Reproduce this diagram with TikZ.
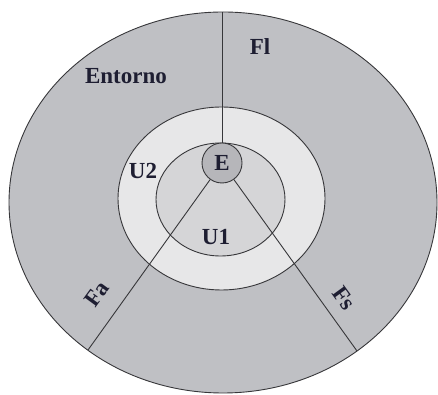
\documentclass[tikz,border=0pt]{standalone}
\usepackage{fontspec}
\setmainfont{Liberation Serif}
\usetikzlibrary{calc,positioning,shapes}
\definecolor{outergray}{RGB}{191,192,196}
\definecolor{ringgray}{RGB}{231,231,232}
\definecolor{innergray}{RGB}{213,213,215}
\definecolor{coregray}{RGB}{182,182,186}
\definecolor{edgegray}{RGB}{55,55,58}
\definecolor{labelink}{RGB}{30,30,50}

\begin{document}
\begin{tikzpicture}[x=1pt,y=1pt]
\tikzstyle{zone}=[draw=edgegray, line width=0.9pt]
\tikzstyle{flow}=[draw=edgegray, line width=0.9pt]
\tikzstyle{lab}=[text=labelink, font=\bfseries\fontsize{23}{25}\selectfont, inner sep=1pt]
\useasboundingbox (0,0) rectangle (438,395);
% regions
\filldraw[zone, fill=outergray] (223,192.5) ellipse (214 and 190.5);
\filldraw[zone, fill=ringgray] (221.5,196.5) ellipse (103.5 and 91.5);
\filldraw[zone, fill=innergray] (220.5,195.5) ellipse (64.5 and 56.5);
\node[circle, zone, fill=coregray, minimum size=40pt, inner sep=0pt, lab] (E) at (222,232) {E};
% flows
\coordinate (fl) at (222,383);
\coordinate (fa) at (88,45);
\coordinate (fs) at (357,44);
\foreach \i in {fl,fa,fs}{\draw[flow] (E) -- (\i);}
% labels
\node[lab] (entorno) at (126,319) {Entorno};
\node[lab] (flab) at (260,348) {Fl};
\node[lab] (u2) at (143,224) {U2};
\node[lab] (u1) at (216,158) {U1};
\node[lab, rotate=54] (falab) at (97,101) {Fa};
\node[lab, rotate=-54] (fslab) at (344,97) {Fs};
\end{tikzpicture}
\end{document}
